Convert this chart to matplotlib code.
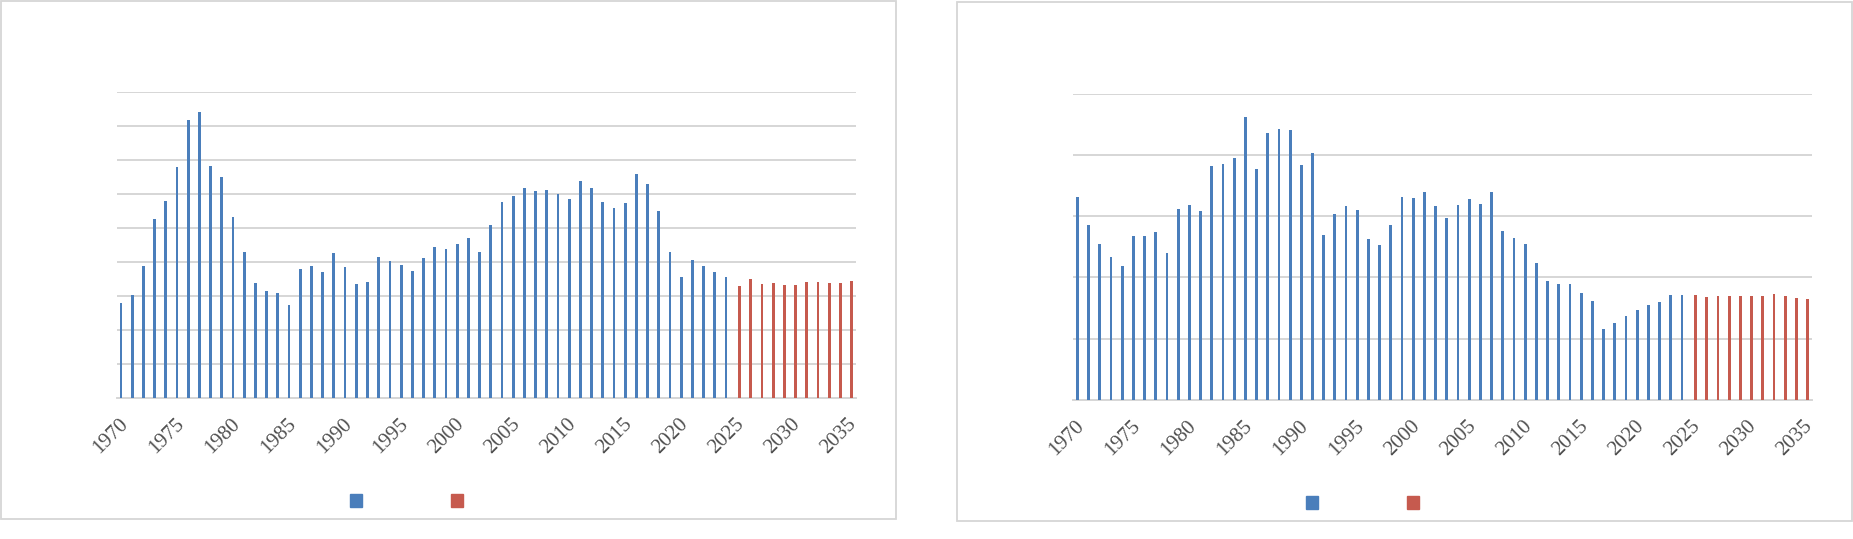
import numpy as np
import matplotlib.pyplot as plt
from matplotlib.patches import Rectangle, Patch
from matplotlib.transforms import ScaledTranslation

# Data (no axis labels so units are gridline steps)
years = list(range(1970, 2036))
hist_years = list(range(1970, 2025))
fc_years = list(range(2025, 2036))

left_hist = [2.78, 3.02, 3.87, 5.25, 5.78, 6.78, 8.17, 8.40, 6.81, 6.49,
             5.31, 4.28, 3.37, 3.14, 3.08, 2.73, 3.78, 3.87, 3.70, 4.25,
             3.84, 3.34, 3.40, 4.14, 4.02, 3.90, 3.73, 4.11, 4.43, 4.37,
             4.52, 4.70, 4.28, 5.08, 5.75, 5.93, 6.17, 6.08, 6.11, 5.99,
             5.84, 6.37, 6.17, 5.75, 5.58, 5.73, 6.58, 6.28, 5.49, 4.28,
             3.55, 4.05, 3.87, 3.70, 3.55]
left_fc = [3.28, 3.49, 3.34, 3.37, 3.31, 3.31, 3.40, 3.40, 3.37, 3.37, 3.43]

right_hist = [3.31, 2.85, 2.54, 2.33, 2.18, 2.67, 2.67, 2.74, 2.40, 3.12,
              3.18, 3.08, 3.82, 3.85, 3.95, 4.62, 3.77, 4.36, 4.42, 4.41,
              3.83, 4.03, 2.69, 3.03, 3.16, 3.10, 2.63, 2.53, 2.85, 3.31,
              3.30, 3.39, 3.16, 2.97, 3.18, 3.28, 3.20, 3.39, 2.76, 2.64,
              2.54, 2.23, 1.94, 1.89, 1.89, 1.74, 1.61, 1.15, 1.25, 1.37,
              1.47, 1.55, 1.60, 1.71, 1.71]
right_fc = [1.71, 1.68, 1.69, 1.69, 1.69, 1.69, 1.69, 1.73, 1.69, 1.66, 1.64]

label_years = years[::5]

BLUE = '#4A7EBB'
RED = '#C65A4E'
GRID = '#D6D6D6'
TEXT = '#505050'

W, H = 1853, 539
fig = plt.figure(figsize=(W / 100, H / 100), dpi=100)
fig.patch.set_facecolor('white')


def px_box(x0, y0, x1, y1):
    # pixel box (top-left origin) -> figure fraction [left, bottom, width, height]
    return [x0 / W, 1 - y1 / H, (x1 - x0) / W, (y1 - y0) / H]


def draw_panel(rect, hist, fc, ymax, legend_xy):
    ax = fig.add_axes(rect)
    idx = {y: i for i, y in enumerate(years)}
    xh = np.array([idx[y] for y in hist_years])
    xf = np.array([idx[y] for y in fc_years])
    ax.bar(xh - 0.11, hist, width=0.25, color=BLUE, zorder=3)
    ax.bar(xf + 0.11, fc, width=0.25, color=RED, zorder=3)

    ax.set_xlim(-0.5, len(years) - 0.5)
    ax.set_ylim(0, ymax)
    ax.set_yticks(range(0, ymax + 1))
    ax.yaxis.grid(True, color=GRID, linewidth=1.4)
    ax.set_axisbelow(True)
    ax.tick_params(axis='y', length=0, labelleft=False)
    for s in ['top', 'right', 'left']:
        ax.spines[s].set_visible(False)
    ax.spines['bottom'].set_color(GRID)
    ax.spines['bottom'].set_linewidth(1.4)

    ax.set_xticks([idx[y] for y in label_years])
    ax.set_xticklabels([str(y) for y in label_years], rotation=45,
                       ha='right', va='center', rotation_mode='anchor',
                       fontsize=15, color=TEXT, family='Liberation Serif')
    ax.tick_params(axis='x', length=0, pad=17)
    shift = ScaledTranslation(3 / 100, 0, fig.dpi_scale_trans)
    for lab in ax.get_xticklabels():
        lab.set_transform(lab.get_transform() + shift)

    handles = [Patch(color=BLUE), Patch(color=RED)]
    fig.legend(handles, ['', ''], ncol=2, frameon=False,
               loc='center', bbox_to_anchor=legend_xy,
               bbox_transform=fig.transFigure, fontsize=14,
               handlelength=0.62, handleheight=0.62,
               handletextpad=0.5, columnspacing=4.1)
    return ax


draw_panel(px_box(116.7, 91.7, 856, 397.7), left_hist, left_fc, 9,
           (411.5 / W, 1 - 502 / H))
draw_panel(px_box(1073, 93.7, 1812, 399.7), right_hist, right_fc, 5,
           (1367.5 / W, 1 - 504 / H))

# chart-area borders
for x0, y0, x1, y1 in [(0.5, 0.8, 895.7, 519), (956.7, 2, 1852, 521)]:
    b = px_box(x0, y0, x1, y1)
    fig.patches.append(Rectangle((b[0], b[1]), b[2], b[3], fill=False,
                                 edgecolor=GRID, linewidth=1.3,
                                 transform=fig.transFigure, figure=fig))

fig.savefig('out.png', dpi=100)
